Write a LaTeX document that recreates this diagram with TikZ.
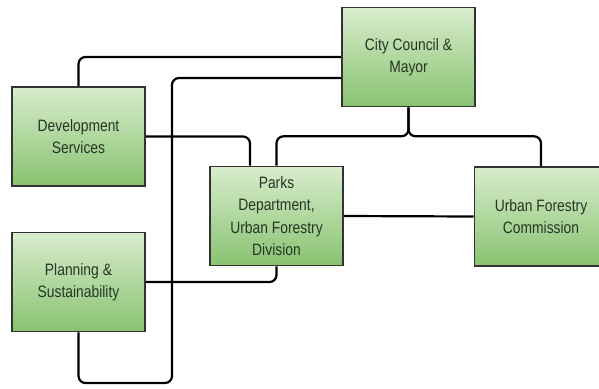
\documentclass[tikz,border=0pt]{standalone}
\usepackage{fontspec}
\setmainfont{Liberation Sans}[FakeStretch=0.84]
\usetikzlibrary{backgrounds}
\definecolor{boxtop}{HTML}{D8ECCD}
\definecolor{boxbot}{HTML}{88C370}
\definecolor{boxline}{HTML}{333333}
\definecolor{boxtext}{HTML}{263626}
\tikzset{
  orgbox/.style={draw=boxline, line width=1.6pt, top color=boxtop, bottom color=boxbot,
    minimum width=133pt, minimum height=99pt, inner sep=0pt, align=center,
    text=boxtext, font=\fontsize{16.5}{22.5}\selectfont},
  link/.style={line width=2.2pt, rounded corners=7pt}
}
\begin{document}
\begin{tikzpicture}[x=1pt, y=-1pt]
\useasboundingbox (0,0) rectangle (599,388);
\clip (0,0) rectangle (599,388);
\node[orgbox] (cc) at (408.5,57) {City Council \&\\Mayor};
\node[orgbox] (dev) at (78.5,136.5) {Development\\Services};
\node[orgbox] (parks) at (276.5,216) {Parks\\Department,\\Urban Forestry\\Division};
\node[orgbox] (ufc) at (541,216.5) {Urban Forestry\\Commission};
\node[orgbox] (plan) at (78.5,282) {Planning \&\\Sustainability};
\coordinate (bend) at (172,383);
% connectors go behind the boxes
\begin{scope}[on background layer]
\draw[link] (dev.north) |- (cc.west);
\draw[link] ([yshift=-21pt]cc.west) -| (bend) -| (plan.south);
\draw[link] (dev.east) -| ([xshift=-26.5pt]parks.north);
\draw[link] (cc.south) -- ++(0,29) -| (parks.north);
\draw[link] (cc.south) -- ++(0,29) -| (ufc.north);
\draw[link] (parks.east) -- (ufc.west);
\draw[link] (plan.east) -| (parks.south);
\end{scope}
\end{tikzpicture}
\end{document}
